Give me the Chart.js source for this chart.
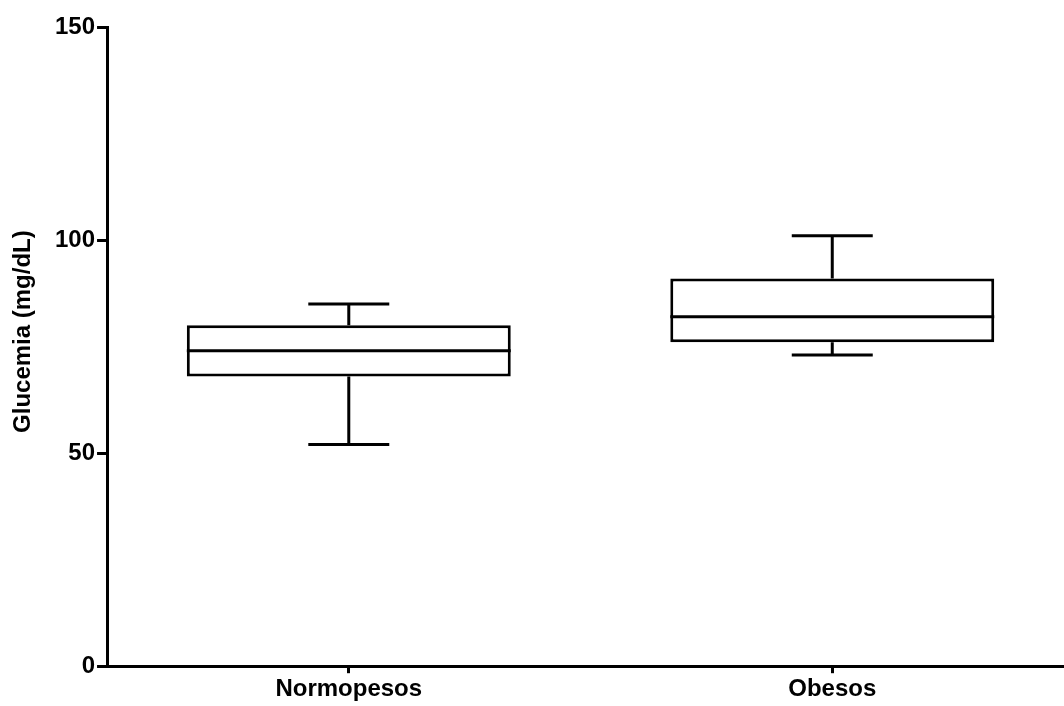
<!DOCTYPE html>
<html>
<head>
<meta charset="utf-8">
<script src="https://cdn.jsdelivr.net/npm/chart.js@4/dist/chart.umd.min.js"></script>
<style>
  html, body { margin: 0; padding: 0; background: #fff; overflow: hidden; }
  #wrap { position: relative; width: 1074px; height: 706px; }
</style>
</head>
<body>
<div id="wrap"><canvas id="chart"></canvas></div>
<script>
// Glucemia por grupo: resumen de cinco números
const categories   = ['Normopesos', 'Obesos'];
const minValues    = [52, 73];
const q1Values     = [68, 76];
const medianValues = [74, 82];
const q3Values     = [80, 91];
const maxValues    = [85, 101];
const yTickValues  = [0, 50, 100, 150];
const yTitle       = 'Glucemia (mg/dL)';

const FONT = "'Liberation Sans', Arial, Helvetica, sans-serif";

// Median, whiskers and caps drawn on top of the floating box bars
const boxExtras = {
  id: 'boxExtras',
  afterDatasetsDraw(chart) {
    const { ctx, scales: { x, y } } = chart;
    const meta = chart.getDatasetMeta(0);
    ctx.save();
    ctx.strokeStyle = '#000';
    ctx.lineWidth = 3;
    ctx.lineCap = 'butt';
    categories.forEach((c, i) => {
      const bar = meta.data[i];
      const cx = x.getPixelForValue(i);
      const half = bar.width / 2;
      const capHalf = bar.width / 8;
      const yMin = y.getPixelForValue(minValues[i]);
      const yQ1 = y.getPixelForValue(q1Values[i]);
      const yMed = y.getPixelForValue(medianValues[i]);
      const yQ3 = y.getPixelForValue(q3Values[i]);
      const yMax = y.getPixelForValue(maxValues[i]);
      ctx.beginPath();
      // median
      ctx.moveTo(cx - half, yMed); ctx.lineTo(cx + half, yMed);
      // upper whisker + cap
      ctx.moveTo(cx, yQ3); ctx.lineTo(cx, yMax);
      ctx.moveTo(cx - capHalf, yMax); ctx.lineTo(cx + capHalf, yMax);
      // lower whisker + cap
      ctx.moveTo(cx, yQ1); ctx.lineTo(cx, yMin);
      ctx.moveTo(cx - capHalf, yMin); ctx.lineTo(cx + capHalf, yMin);
      ctx.stroke();
    });
    ctx.restore();
  }
};

// Y-axis title placed a little above the vertical centre of the axis
const yTitlePlugin = {
  id: 'yTitlePlugin',
  afterDraw(chart) {
    const { ctx, chartArea } = chart;
    const cy = (chartArea.top + chartArea.bottom) / 2 - 15;
    ctx.save();
    ctx.translate(23, cy);
    ctx.rotate(-Math.PI / 2);
    ctx.fillStyle = '#000';
    ctx.font = 'bold 24px ' + FONT;
    ctx.textAlign = 'center';
    ctx.textBaseline = 'middle';
    ctx.fillText(yTitle, 0, 0);
    ctx.restore();
  }
};

new Chart(document.getElementById('chart'), {
  type: 'bar',
  data: {
    labels: categories,
    datasets: [{
      data: categories.map((c, i) => [q1Values[i], q3Values[i]]),
      backgroundColor: '#ffffff',
      borderColor: '#000',
      borderWidth: 3,
      borderSkipped: false,
      barPercentage: 0.67,
      categoryPercentage: 1.0
    }]
  },
  options: {
    responsive: true,
    maintainAspectRatio: false,
    animation: false,
    layout: { padding: { left: 53, top: 27, right: 0, bottom: 0 } },
    plugins: { legend: { display: false }, tooltip: { enabled: false } },
    scales: {
      x: {
        offset: true,
        grid: { display: true, offset: false, drawOnChartArea: false, drawTicks: true, tickLength: 7, color: '#000', lineWidth: 3 },
        border: { display: true, color: '#000', width: 3 },
        ticks: { color: '#000', padding: 2, font: { family: FONT, size: 24, weight: 'bold' } }
      },
      y: {
        min: 0,
        max: 150,
        afterBuildTicks(scale) { scale.ticks = yTickValues.map(v => ({ value: v })); },
        grid: { display: true, drawOnChartArea: false, drawTicks: true, tickLength: 10, color: '#000', lineWidth: 3 },
        border: { display: true, color: '#000', width: 3 },
        ticks: { color: '#000', padding: 2, font: { family: FONT, size: 24, weight: 'bold' } },
        title: { display: false }
      }
    }
  },
  plugins: [boxExtras, yTitlePlugin]
});
</script>
</body>
</html>
